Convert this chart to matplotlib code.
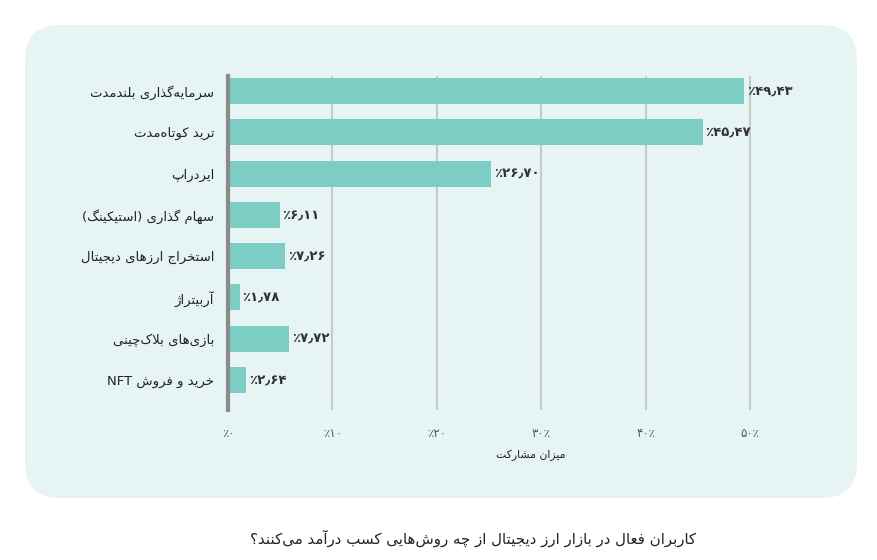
import re
import matplotlib.pyplot as plt
from matplotlib.patches import FancyBboxPatch

# داده‌ها
labels = ['سرمایه‌گذاری بلندمدت', 'ترید کوتاه‌مدت', 'ایردراپ', 'سهام گذاری (استیکینگ)',
          'استخراج ارزهای دیجیتال', 'آربیتراژ', 'بازی‌های بلاک‌چینی', 'خرید و فروش NFT']
values = [49.43, 45.47, 26.70, 6.11, 7.26, 1.78, 7.72, 2.64]
# طول میله‌ها در تصویر اصلی با برچسب‌ها یکی نیست
bar_lengths = [49.43, 45.47, 25.2, 4.95, 5.5, 1.1, 5.85, 1.75]
ticks = [0, 10, 20, 30, 40, 50]
tick_labels = ['٪۰', '٪۱۰', '٪۲۰', '۳۰٪', '۴۰٪', '۵۰٪']
xlabel = 'میزان مشارکت'
title = 'کاربران فعال در بازار ارز دیجیتال از چه روش‌هایی کسب درآمد می‌کنند؟'

# matplotlib حروف فارسی را به هم نمی‌چسباند، پس شکل‌ها را دستی می‌سازیم
FORMS = {
    'ا': ('\uFE8D', '\uFE8E', None, None),
    'آ': ('\uFE81', '\uFE82', None, None),
    'ب': ('\uFE8F', '\uFE90', '\uFE91', '\uFE92'),
    'پ': ('\uFB56', '\uFB57', '\uFB58', '\uFB59'),
    'ت': ('\uFE95', '\uFE96', '\uFE97', '\uFE98'),
    'ج': ('\uFE9D', '\uFE9E', '\uFE9F', '\uFEA0'),
    'چ': ('\uFB7A', '\uFB7B', '\uFB7C', '\uFB7D'),
    'خ': ('\uFEA5', '\uFEA6', '\uFEA7', '\uFEA8'),
    'د': ('\uFEA9', '\uFEAA', None, None),
    'ذ': ('\uFEAB', '\uFEAC', None, None),
    'ر': ('\uFEAD', '\uFEAE', None, None),
    'ز': ('\uFEAF', '\uFEB0', None, None),
    'ژ': ('\uFB8A', '\uFB8B', None, None),
    'س': ('\uFEB1', '\uFEB2', '\uFEB3', '\uFEB4'),
    'ش': ('\uFEB5', '\uFEB6', '\uFEB7', '\uFEB8'),
    'ع': ('\uFEC9', '\uFECA', '\uFECB', '\uFECC'),
    'ف': ('\uFED1', '\uFED2', '\uFED3', '\uFED4'),
    'ک': ('\uFB8E', '\uFB8F', '\uFB90', '\uFB91'),
    'گ': ('\uFB92', '\uFB93', '\uFB94', '\uFB95'),
    'ل': ('\uFEDD', '\uFEDE', '\uFEDF', '\uFEE0'),
    'م': ('\uFEE1', '\uFEE2', '\uFEE3', '\uFEE4'),
    'ن': ('\uFEE5', '\uFEE6', '\uFEE7', '\uFEE8'),
    'ه': ('\uFEE9', '\uFEEA', '\uFEEB', '\uFEEC'),
    'و': ('\uFEED', '\uFEEE', None, None),
    'ی': ('\uFBFC', '\uFBFD', '\uFBFE', '\uFBFF'),
}
LAM_ALEF = {'ا': ('\uFEFB', '\uFEFC'), 'آ': ('\uFEF5', '\uFEF6')}


def shape(s):
    out = []
    i = 0
    while i < len(s):
        c = s[i]
        if c not in FORMS:
            out.append(c)
            i += 1
            continue
        prev = s[i - 1] if i > 0 else ''
        joins_prev = prev in FORMS and FORMS[prev][2] is not None
        nxt = s[i + 1] if i + 1 < len(s) else ''
        if c == 'ل' and nxt in LAM_ALEF:
            out.append(LAM_ALEF[nxt][1 if joins_prev else 0])
            i += 2
            continue
        joins_next = FORMS[c][2] is not None and nxt in FORMS
        out.append(FORMS[c][(1 if joins_prev else 0) + (2 if joins_next else 0)])
        i += 1
    return ''.join(out).replace('\u200c', '')


def rtl(s):
    s = shape(s)
    rev = ''.join({'(': ')', ')': '('}.get(c, c) for c in reversed(s))
    return re.sub(r'[A-Za-z0-9۰-۹]+', lambda m: m.group(0)[::-1], rev)


def fa_num(v):
    return '٪' + f'{v:.2f}'.replace('.', '٫').translate(str.maketrans('0123456789', '۰۱۲۳۴۵۶۷۸۹'))


plt.rcParams['font.family'] = ['DejaVu Sans']

fig = plt.figure(figsize=(8.77, 5.6), dpi=100)

# پس‌زمینه گرد
panel = FancyBboxPatch((0.25, 0.62), 8.32, 4.73, boxstyle='round,pad=0,rounding_size=0.35',
                       transform=fig.dpi_scale_trans, facecolor='#e7f4f4', edgecolor='none', zorder=0)
fig.add_artist(panel)

ax = fig.add_axes([0.260, 0.268, 0.655, 0.596])
ax.set_facecolor('none')

y = list(range(len(values)))
ax.barh(y, bar_lengths, height=0.63, color='#7ccdc4', zorder=2)
for yi, b, v in zip(y, bar_lengths, values):
    ax.text(b + 0.25, yi, fa_num(v), va='center', ha='left', fontsize=9.5,
            fontweight='bold', color='#333333')

ax.set_xlim(0, 55)
ax.set_ylim(7.73, -0.36)
ax.set_yticks(y)
ax.set_yticklabels([rtl(l) for l in labels], fontsize=9.5, color='#222222')
ax.set_xticks(ticks)
ax.set_xticklabels(tick_labels, fontsize=8.5, color='#555555')
ax.tick_params(axis='both', length=0)
ax.tick_params(axis='y', pad=10)
ax.tick_params(axis='x', pad=12)

ax.xaxis.grid(True, color='#c5cbcb', linewidth=1.5)
ax.set_axisbelow(True)
for s in ['top', 'right', 'bottom']:
    ax.spines[s].set_visible(False)
ax.spines['left'].set_color('#8a8a8a')
ax.spines['left'].set_linewidth(3)
ax.spines['left'].set_zorder(3)

fig.text(531 / 877, 1 - 455 / 560, rtl(xlabel), ha='center', va='center', fontsize=7.8,
         color='#222222')
fig.text(473 / 877, 1 - 538 / 560, rtl(title), ha='center', va='center', fontsize=10.8,
         color='#222222')

plt.savefig('out.png', dpi=100)
